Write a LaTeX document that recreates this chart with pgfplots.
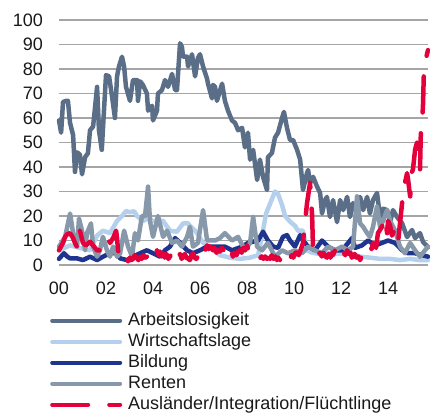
\documentclass[border=0pt]{standalone}
\usepackage{fontspec}
\setmainfont{Liberation Sans}
\usepackage{pgfplots}
\pgfplotsset{compat=1.18}
\definecolor{cArb}{RGB}{90,111,135}
\definecolor{cWir}{RGB}{180,208,236}
\definecolor{cBil}{RGB}{30,52,142}
\definecolor{cRen}{RGB}{135,152,170}
\definecolor{cAus}{RGB}{228,0,58}
\definecolor{cGrid}{RGB}{165,165,165}
\begin{document}
\begin{tikzpicture}
\path[use as bounding box] (0,0) rectangle (430bp,416bp);
\begin{axis}[
  at={(59bp,151bp)}, anchor=south west,
  scale only axis, width=369bp, height=245bp,
  xmin=2000, xmax=2015.7, ymin=0, ymax=100,
  clip=false,
  ytick={0,10,...,100},
  xtick={2000,2002,2004,2006,2008,2010,2012,2014},
  xticklabels={00,02,04,06,08,10,12,14},
  ymajorgrids, xmajorgrids=false,
  grid style={cGrid, line width=1.3bp},
  axis line style={draw=none},
  tick style={draw=none},
  major tick length=0pt,
  /pgf/number format/assume math mode=true,
  tick label style={font=\fontsize{18bp}{21bp}\selectfont, text=black!90},
  yticklabel style={anchor=east, inner sep=0pt, xshift=-16bp},
  xticklabel style={anchor=north, inner sep=0pt, yshift=-17bp},
  every axis plot/.append style={line width=4.5bp, line join=round, line cap=round},
  legend cell align=left,
  legend image code/.code={\draw[#1, line width=4bp] (2bp,0bp) -- (70bp,0bp);},
  legend style={at={(-0.0244,-0.192)}, anchor=north west, draw=none, fill=none,
    font=\fontsize{18bp}{21bp}\selectfont, text=black!90,
    inner xsep=0pt, inner ysep=0pt, row sep=4bp,
    nodes={inner sep=0pt, text height=13bp, text depth=4bp},
    /tikz/every odd column/.style={column sep=6bp}},
]
\addplot[cArb] coordinates {
(2000.00,59)(2000.09,54)(2000.17,66.5)(2000.30,67)(2000.38,67)(2000.47,58)(2000.60,53)(2000.68,38)
(2000.77,46)(2000.89,45)(2000.98,37)(2001.11,44)(2001.23,45.6)(2001.32,55)(2001.45,56.5)(2001.53,64)
(2001.62,72.7)(2001.70,55)(2001.82,47)(2001.89,59)(2002.00,77.5)(2002.13,77)(2002.26,68.6)(2002.38,60)
(2002.47,77)(2002.55,81)(2002.68,85)(2002.77,81)(2002.85,72.7)(2003.02,67)(2003.15,75.5)(2003.32,75.5)
(2003.36,67)(2003.45,75)(2003.57,73.5)(2003.74,70)(2003.79,63)(2003.96,65)(2004.00,59)(2004.17,63)
(2004.21,70)(2004.38,71.4)(2004.51,75.5)(2004.64,72.7)(2004.81,78)(2004.94,71.4)(2005.02,71.4)(2005.15,90.5)
(2005.23,89)(2005.28,85)(2005.45,85)(2005.49,81)(2005.66,86)(2005.79,77)(2005.91,84.5)(2006.00,86)
(2006.13,81)(2006.30,76)(2006.34,74)(2006.51,68)(2006.55,73.5)(2006.64,72.7)(2006.72,67)(2006.94,74)
(2007.06,67)(2007.19,63)(2007.36,59)(2007.49,58)(2007.62,55)(2007.79,56)(2007.91,48)(2008.04,54)
(2008.13,43)(2008.26,47)(2008.43,34.7)(2008.55,43)(2008.68,36)(2008.85,30.6)(2008.89,44)(2009.06,45.7)
(2009.19,52)(2009.32,54)(2009.49,60)(2009.57,62.5)(2009.70,56)(2009.83,51)(2009.96,51)(2010.13,47)
(2010.26,43)(2010.38,30.6)(2010.55,37.5)(2010.60,38.8)(2010.68,33.5)(2010.81,36)(2010.98,32)(2011.11,29.4)
(2011.19,21)(2011.32,26.5)(2011.40,27.8)(2011.53,19.6)(2011.66,26.5)(2011.83,17.5)(2011.96,26.5)(2012.09,22.4)
(2012.26,27.8)(2012.38,19.6)(2012.51,25.3)(2012.68,21)(2012.81,27.8)(2012.94,22.4)(2013.11,27.8)(2013.23,21)
(2013.36,26.5)(2013.53,29.4)(2013.66,19.6)(2013.79,23)(2013.96,22.4)(2014.09,17.5)(2014.21,22.4)(2014.38,19.6)
(2014.60,17)(2014.81,11.4)(2015.02,14.3)(2015.15,11)(2015.36,13)(2015.49,9.4)(2015.70,7.3)
};
\addlegendentry{Arbeitslosigkeit}
\addplot[cWir] coordinates {
(2000.00,6)(2000.47,8)(2000.89,7)(2001.32,6)(2001.62,12)(2001.87,14)(2002.17,13)(2002.47,18)
(2002.68,20)(2002.85,22)(2003.02,21.5)(2003.19,22)(2003.32,20)(2003.57,18)(2003.79,19)(2004.00,18)
(2004.21,18)(2004.43,18)(2004.60,15.6)(2004.72,14)(2005.02,13.6)(2005.28,17)(2005.49,17)(2005.57,16)
(2005.79,14)(2005.87,13)(2006.13,9)(2006.43,7.5)(2006.85,4)(2007.28,3)(2007.70,2.5)(2008.13,3)
(2008.47,4)(2008.68,14)(2008.81,21)(2008.98,25)(2009.19,30)(2009.32,29)(2009.49,24.5)(2009.62,20)
(2009.83,17.7)(2010.04,16)(2010.17,14)(2010.38,14)(2010.55,6)(2010.77,5)(2011.11,4.5)(2011.53,5)
(2011.96,4.5)(2012.38,5)(2012.81,3.4)(2013.23,3)(2013.66,2.5)(2014.09,2.5)(2014.51,2)(2014.94,2.5)
(2015.36,2)(2015.70,2)
};
\addlegendentry{Wirtschaftslage}
\addplot[cBil] coordinates {
(2000.00,2.5)(2000.21,4.8)(2000.34,3.5)(2000.47,2.7)(2000.77,2.7)(2001.02,2)(2001.32,3.4)(2001.62,2)
(2001.87,3.4)(2002.17,4.8)(2002.47,4.8)(2002.60,2.7)(2002.89,2)(2003.15,3.4)(2003.45,4.8)(2003.74,6)
(2004.00,4.8)(2004.30,3.4)(2004.51,6)(2004.72,7.5)(2004.94,11)(2005.15,9)(2005.45,6)(2005.70,4.8)
(2006.00,6)(2006.30,7.5)(2006.64,7.5)(2007.06,7.5)(2007.36,6)(2007.79,7.5)(2008.04,9)(2008.47,10)
(2008.68,13.6)(2008.89,10)(2009.11,7.5)(2009.32,7)(2009.53,11.5)(2009.70,12.2)(2009.83,10)(2010.04,7.5)
(2010.26,12.2)(2010.38,10)(2010.60,7.5)(2010.89,6)(2011.19,10)(2011.45,7.5)(2011.74,6)(2012.04,6)
(2012.30,9)(2012.47,11)(2012.60,7)(2012.89,8)(2013.15,10)(2013.45,8)(2013.74,9)(2014.00,10)
(2014.30,9)(2014.60,6)(2014.85,4.8)(2015.15,4.8)(2015.45,4)(2015.70,3.4)
};
\addlegendentry{Bildung}
\addplot[cRen] coordinates {
(2000.00,7.5)(2000.26,11.5)(2000.47,21)(2000.60,13)(2000.77,7.5)(2000.85,19)(2000.98,14)(2001.11,6)
(2001.19,13)(2001.36,17)(2001.45,7.5)(2001.62,3.4)(2001.74,6)(2001.87,11.5)(2002.04,6)(2002.17,3.4)
(2002.30,7.5)(2002.47,3.4)(2002.60,4.8)(2002.77,14)(2002.94,7.5)(2003.11,3.4)(2003.23,13)(2003.36,10)
(2003.53,20)(2003.66,20)(2003.79,32)(2003.87,18)(2004.00,11.5)(2004.21,20)(2004.43,11.5)(2004.60,14)
(2004.81,9)(2005.02,10)(2005.23,7.5)(2005.45,11.5)(2005.57,15.6)(2005.70,7.5)(2005.91,9)(2006.13,22.4)
(2006.30,10)(2006.51,10)(2006.64,10)(2006.85,11)(2007.06,13)(2007.36,10)(2007.62,11.5)(2007.91,6)
(2008.13,9)(2008.26,19.7)(2008.43,7.5)(2008.64,6)(2008.89,9)(2009.19,3.4)(2009.49,6)(2009.74,4.8)
(2010.04,6)(2010.34,4.8)(2010.60,7.5)(2010.89,6)(2011.19,4.8)(2011.45,7.5)(2011.74,6)(2012.04,7.5)
(2012.30,6)(2012.51,7.5)(2012.68,28)(2012.81,17)(2012.94,15.6)(2013.11,13)(2013.23,11.5)(2013.36,15.6)
(2013.53,24)(2013.66,15.6)(2013.79,18)(2013.96,22.4)(2014.09,18)(2014.30,14)(2014.51,7.5)(2014.72,4.8)
(2014.94,9)(2015.15,6)(2015.36,3.4)(2015.57,6)(2015.70,7.5)
};
\addlegendentry{Renten}
\addplot[cAus, dash pattern=on 36bp off 21bp] coordinates {
(2000.00,6)(2000.17,9)(2000.26,11.5)(2000.34,12.5)(2000.47,13)(2000.60,11)(2000.68,9)(2000.81,6.5)
(2000.89,14)(2001.02,9)(2001.15,8)(2001.32,9.5)(2001.45,8)(2001.62,6)(2001.74,6)(2001.87,9)
(2002.04,11.5)(2002.17,9)(2002.30,11)(2002.43,14)(2002.47,11)(2002.51,6)(2002.58,4)(2002.65,5)
(2002.72,3.4)(2002.80,2)(2002.87,3)(2002.94,1.5)(2003.02,3)(2003.08,2)(2003.15,2.5)(2003.22,4)
(2003.30,3)(2003.38,2)(2003.45,3.4)(2003.52,2.5)(2003.60,4)(2003.67,3)(2003.74,3.4)(2003.82,5)
(2003.89,3.5)(2003.96,4)(2004.04,6)(2004.10,5)(2004.17,6)(2004.24,4)(2004.30,5.5)(2004.36,3.5)
(2004.43,4.8)(2004.50,3)(2004.57,4.5)(2004.65,2.5)(2004.72,3.4)(2004.80,5)(2004.88,4)(2004.95,6)
(2005.02,5.4)(2005.08,3.5)(2005.15,4.5)(2005.22,2.5)(2005.28,3.4)(2005.35,4.5)(2005.42,3)(2005.50,2.5)
(2005.57,2)(2005.63,4)(2005.70,4.8)(2005.77,3)(2005.84,2.5)(2005.91,3.4)(2005.98,5)(2006.05,4)
(2006.13,6.8)(2006.20,5.5)(2006.30,8)(2006.37,6.5)(2006.45,7.5)(2006.55,6)(2006.62,7)(2006.70,5)
(2006.78,6)(2006.85,5.5)(2006.93,7)(2007.00,6)(2007.06,7.5)(2007.14,6.5)(2007.20,8)(2007.28,7.5)
(2007.34,5.5)(2007.40,3.4)(2007.47,5)(2007.55,4)(2007.62,5.5)(2007.70,6)(2007.77,5)(2007.84,7)
(2007.92,6)(2008.00,8)(2008.06,6)(2008.13,5)(2008.20,4.5)(2008.26,3.4)(2008.33,4)(2008.40,3)
(2008.47,3.5)(2008.55,2.7)(2008.62,3.5)(2008.70,2.5)(2008.77,3.5)(2008.85,2.5)(2008.92,3)(2008.98,2.5)
(2009.05,4)(2009.12,2.5)(2009.20,3.5)(2009.27,2)(2009.33,3)(2009.40,2)(2009.47,3.5)(2009.55,2.5)
(2009.62,4)(2009.70,3)(2009.77,2)(2009.83,2.7)(2009.90,4)(2009.97,3)(2010.05,5)(2010.13,5)
(2010.20,4)(2010.28,6)(2010.38,9)(2010.55,25)(2010.68,33.5)(2010.77,20)(2010.81,6)(2010.88,4.5)
(2010.95,6)(2011.02,4)(2011.11,5)(2011.18,3.5)(2011.25,5)(2011.33,3.5)(2011.40,3)(2011.47,4.5)
(2011.55,3)(2011.62,5)(2011.66,4)(2011.74,6)(2011.82,4)(2011.89,5.5)(2011.96,5)(2012.04,3.5)
(2012.11,5)(2012.18,4)(2012.26,6)(2012.33,4.5)(2012.40,5)(2012.46,3)(2012.51,3.4)(2012.58,4.5)
(2012.66,3)(2012.74,3.5)(2012.81,2)(2012.88,3.5)(2012.95,4)(2013.02,5)(2013.10,6.5)(2013.17,5.5)
(2013.23,7.5)(2013.30,6.5)(2013.36,9)(2013.49,7)(2013.57,13)(2013.74,15.6)(2013.87,19.6)(2013.96,13)
(2014.00,18)(2014.09,16)(2014.17,12)(2014.30,15)(2014.43,9.6)(2014.60,25.6)(2014.72,33.5)(2014.81,37.5)
(2014.85,35)(2014.94,28)(2015.02,38)(2015.06,39)(2015.15,47)(2015.23,50)(2015.28,47)(2015.36,39)
(2015.40,56)(2015.45,58)(2015.49,66)(2015.53,81)(2015.70,87.7)
};
\addlegendentry{Ausländer/Integration/Flüchtlinge}
\end{axis}
\end{tikzpicture}
\end{document}
